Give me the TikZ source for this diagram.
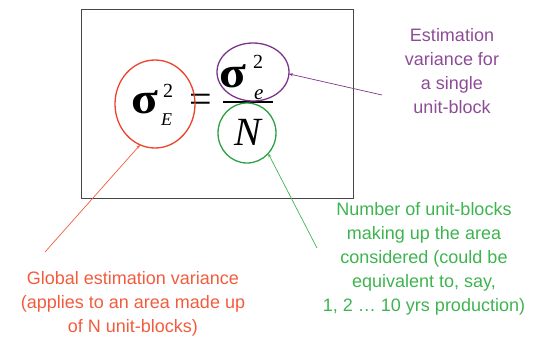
\documentclass[tikz,border=0pt]{standalone}
\usepackage{fontspec}
\setmainfont{Liberation Sans}
\newfontfamily\eqfont{Liberation Serif}
\usepackage{xcolor}
\definecolor{varred}{RGB}{236,66,46}
\definecolor{varredtext}{RGB}{242,92,62}
\definecolor{varpurple}{RGB}{124,52,140}
\definecolor{varpurpletext}{RGB}{142,76,152}
\definecolor{vargreen}{RGB}{44,160,68}
\definecolor{vargreentext}{RGB}{62,180,80}
\definecolor{boxgray}{RGB}{70,70,70}
\usetikzlibrary{arrows.meta, positioning, shapes.geometric}

\tikzset{
  ring/.style={ellipse, line width=1.3pt, inner sep=0pt, outer sep=0pt},
  note/.style={align=center, font=\fontsize{18}{24}\selectfont},
  pointer/.style={-{Stealth[length=4pt, width=3pt]}, line width=0.7pt},
  eqbig/.style={anchor=base, inner sep=0pt, font=\eqfont\bfseries\fontsize{44}{44}\selectfont},
  eqsmall/.style={anchor=base west, inner sep=0pt, font=\eqfont\fontsize{20}{20}\selectfont}
}
\newcommand{\widesigma}{\scalebox{1.12}[1]{σ}}

\begin{document}
\begin{tikzpicture}[x=1pt, y=-1pt]
  \useasboundingbox (0,0) rectangle (537,338);

  % Frame round the formula
  \draw[boxgray, line width=0.8pt] (81,9) rectangle (353,198);

  % --- Left side: sigma_E^2 ---
  \node[eqbig] (sigE) at (145,113) {\widesigma};
  \node[eqsmall] (supE) at (163,97) {2};
  \node[eqsmall, font=\eqfont\itshape\fontsize{18}{18}\selectfont] (subE) at (161,125) {E};

  % Equals sign
  \node[inner sep=0pt, font=\eqfont\fontsize{40}{40}\selectfont] (eq) at (201,103) {=};

  % --- Right side: sigma_e^2 / N ---
  \node[eqbig] (sige) at (233,87) {\widesigma};
  \node[eqsmall] (supe) at (253,68) {2};
  \node[eqsmall, font=\eqfont\itshape\fontsize{21}{21}\selectfont] (sube) at (254,99) {e};
  \draw[line width=1.6pt] (223,102) -- (273,102);
  \node[anchor=base west, inner sep=0pt, font=\eqfont\itshape\fontsize{40}{40}\selectfont] (N) at (234,145) {N};

  % Rings round the terms
  \node[ring, draw=varred, minimum width=80pt, minimum height=88pt] (redring) at (155,104) {};
  \node[ring, draw=varpurple, minimum width=72pt, minimum height=58pt] (purplering) at (253,72) {};
  \node[ring, draw=vargreen, minimum width=58pt, minimum height=60pt] (greenring) at (247,133) {};

  % Notes
  \node[note, varredtext] (rednote) at (133,304) {Global estimation variance\\(applies to an area made up\\of N unit-blocks)};
  \node[note, varpurpletext] (purplenote) at (452,71) {Estimation\\variance for\\a single\\unit-block};
  \node[note, vargreentext] (greennote) at (424,259) {Number of unit-blocks\\making up the area\\considered (could be\\equivalent to, say,\\1, 2 \dots\ 10 yrs production)};

  % Pointers
  \coordinate (redtail) at (45,252);
  \coordinate (purpletail) at (382,95);
  \coordinate (greentail) at (317,248);
  \draw[pointer, varredtext] (redtail) -- (redring.250);
  \draw[pointer, varpurple] (purpletail) -- (purplering.-3);
  \draw[pointer, vargreentext] (greentail) -- (greenring.-44);
\end{tikzpicture}
\end{document}
